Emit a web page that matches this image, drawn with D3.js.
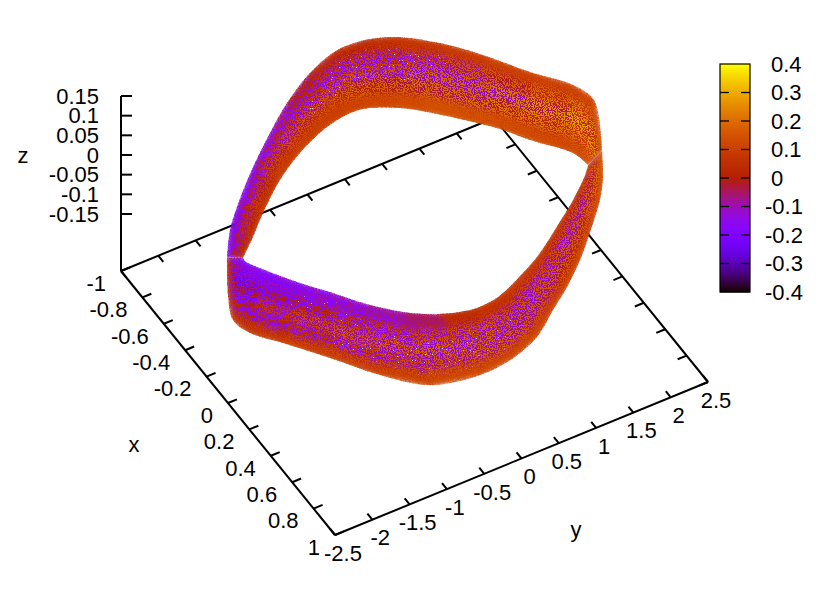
<!DOCTYPE html>
<html><head><meta charset="utf-8">
<script src="https://cdn.jsdelivr.net/npm/d3@7"></script>
<style>html,body{margin:0;padding:0;background:#fff}svg{display:block}text{font-family:"Liberation Sans",Arial,sans-serif;font-size:22px;fill:#000}</style>
</head><body><svg id="c" width="830" height="608"></svg>
<script>
// axis ticks
const xTicks=[-1,-0.8,-0.6,-0.4,-0.2,0,0.2,0.4,0.6,0.8,1];
const yTicks=[-2.5,-2,-1.5,-1,-0.5,0,0.5,1,1.5,2,2.5];
const zTicks=[0.15,0.1,0.05,0,-0.05,-0.1,-0.15];
const cbTicks=[0.4,0.3,0.2,0.1,0,-0.1,-0.2,-0.3,-0.4];
// ribbon stations (outer edge, inner edge); 0-14 start the far half, 15-31 the near half
const outerX=[.029,-.118,-.232,-.422,-.576,-.707,-.824,-.891,-.877,-.818,-.691,-.523,-.316,-.142,-.008,.093,.249,.373,.287,.467,.590,.688,.804,.868,.887,.828,.654,.441,.246,.112,-.002,-.155,.029];
const outerY=[-2.555,-2.304,-2.047,-1.559,-1.111,-.695,-.220,.240,.661,.980,1.333,1.668,2.002,2.328,2.417,2.380,2.170,1.952,1.981,1.550,1.198,.870,.489,.076,-.394,-.979,-1.400,-1.765,-2.115,-2.366,-2.431,-2.278,-2.555];
const outerZ=[.09,.09,.09,.09,.09,.09,.09,.09,.09,.09,.09,.09,.09,.09,.09,0,0,0,-.09,-.09,-.09,-.09,-.09,-.09,-.09,-.09,-.09,-.09,-.09,-.09,-.09,-.09,.09];
const innerX=[-.331,-.427,-.540,-.688,-.795,-.880,-.905,-.887,-.817,-.732,-.615,-.465,-.332,-.158,-.071,.348,.398,.503,.597,.736,.810,.877,.898,.897,.843,.752,.608,.468,.347,.168,.094,.072,-.331];
const innerY=[-1.825,-1.553,-1.256,-.816,-.395,.088,.434,.676,.978,1.217,1.491,1.813,2.025,2.351,2.401,1.827,1.715,1.417,1.106,.626,.292,-.072,-.276,-.543,-.907,-1.233,-1.561,-1.804,-2.032,-2.313,-2.407,-2.402,-1.825];
const innerZ=[-.09,-.09,-.09,-.09,-.09,-.09,-.09,-.09,-.09,-.09,-.09,-.09,-.09,-.09,-.09,.09,.09,.09,.09,.09,.09,.09,.09,.09,.09,.09,.09,.09,.09,.09,.09,.09,-.09];
// colour value of the points per ribbon segment, outer to inner: lower and upper end of what is seen there
const lowValues=[
[-.22,-.2,-.16,-.08,0],[-.22,-.18,-.12,-.02,.03],[-.2,-.16,-.1,0,.05],[-.17,-.15,-.1,.02,.08],[-.13,-.16,-.1,.03,.09],
[-.08,-.16,-.1,.05,.1],[-.02,-.15,-.12,.03,.1],[0,-.15,-.13,0,.1],[.03,-.14,-.14,-.02,.12],[.05,-.12,-.14,-.03,.13],
[.07,-.08,-.13,-.05,.12],[.09,-.02,-.11,0,.12],[.09,.04,-.05,.04,.11],[.09,.08,.04,.08,.11],[.09,.08,0,.1,.11],
[.1,.12,.1,-.05,.05],[.1,.1,.02,-.08,.02],[.1,.08,-.06,-.1,.02],[.1,.02,-.12,-.1,.03],[.1,0,-.13,-.1,.05],
[.1,-.05,-.14,-.1,.05],[.1,-.08,-.14,-.1,.05],[.1,-.08,-.13,-.1,.05],[.1,-.08,-.13,-.1,.02],[.1,-.08,-.13,-.1,-.06],
[.08,-.1,-.1,-.13,-.12],[.07,-.13,-.07,-.15,-.16],[.06,-.14,-.08,-.18,-.18],[.05,-.16,-.12,-.2,-.2],[.03,-.15,-.2,-.24,-.2],
[.02,-.13,-.24,-.26,-.2],[.02,-.1,-.22,-.2,-.18]];
const highValues=[
[-.15,-.08,-.02,.03,.07],[-.15,-.05,.04,.08,.08],[-.13,-.02,.08,.1,.09],[-.1,.05,.12,.12,.1],[-.06,.06,.14,.14,.1],
[0,.06,.15,.15,.1],[.06,.08,.15,.17,.12],[.07,.1,.16,.18,.13],[.08,.09,.16,.18,.14],[.09,.12,.18,.2,.15],
[.1,.15,.18,.2,.15],[.11,.17,.22,.22,.14],[.12,.2,.26,.22,.14],[.12,.22,.29,.24,.15],[.11,.2,.28,.25,.17],
[.12,.2,.2,.18,.15],[.12,.2,.2,.16,.12],[.12,.18,.18,.15,.12],[.12,.17,.16,.14,.11],[.12,.16,.16,.13,.1],
[.12,.15,.15,.13,.1],[.12,.15,.15,.13,.08],[.13,.16,.15,.14,.08],[.14,.17,.17,.14,.06],[.14,.15,.18,.12,-.04],
[.13,.12,.17,.1,-.06],[.13,.1,.16,.07,-.08],[.12,.06,.13,.03,-.1],[.1,.03,.08,-.02,-.12],[.1,.02,.02,-.06,-.13],
[.08,.04,-.04,-.1,-.13],[.08,.05,-.03,-.1,-.12]];
// ribbon cells [segment, column] where the scatter is thin enough for paper to show through
const sparseCells=[[5,2],[6,1],[6,2],[7,1],[7,2],[8,1],[8,2],[9,1],[22,2],[23,2],[23,1],[24,1],[24,2],[25,1],[25,2],[26,3],[27,3],[26,1]];

const svg=d3.select("#c");
const xPxX=d3.scaleLinear([-1,1],[0,214]),xPxY=d3.scaleLinear([-1,1],[0,264]);
const yPxX=d3.scaleLinear([-2.5,2.5],[0,373]),yPxY=d3.scaleLinear([-2.5,2.5],[0,-153]);
const zPx=d3.scaleLinear([-0.295,0.15],[271,96]);
const base=-0.295;
const P=(x,y,z=base)=>[121+xPxX(x)+yPxX(y),zPx(z)+xPxY(x)+yPxY(y)];
const palette=v=>{const g=Math.max(0,Math.min(1,(v+.4)/.8));
  return d3.rgb(255*Math.sqrt(g),255*g*g*g,255*Math.max(0,Math.sin(2*Math.PI*g))).formatRgb();};

const defs=svg.append("defs");
const region=f=>f.attr("filterUnits","userSpaceOnUse").attr("x",0).attr("y",0).attr("width",830).attr("height",608).attr("color-interpolation-filters","sRGB");
const soft=region(defs.append("filter").attr("id","soft"));
soft.append("feGaussianBlur").attr("stdDeviation",3);
const mkGrain=(id,seed,thr,freq,blur,oct)=>{
  const gr=region(defs.append("filter").attr("id",id));
  gr.append("feGaussianBlur").attr("in","SourceGraphic").attr("stdDeviation",blur).attr("result","b");
  gr.append("feTurbulence").attr("type","fractalNoise").attr("baseFrequency",freq).attr("numOctaves",oct).attr("seed",seed).attr("result","n");
  gr.append("feColorMatrix").attr("in","n").attr("type","matrix").attr("values",`0 0 0 0 0 0 0 0 0 0 0 0 0 0 0 30 0 0 0 ${-30*thr}`).attr("result","m");
  gr.append("feComposite").attr("in","b").attr("in2","m").attr("operator","in");
};
mkGrain("grain",23,0.49,"0.87 0.79",3,2);
mkGrain("gaps",11,0.75,"0.71 0.83",5,2);

// wire frame
const line=(a,b,w=2)=>svg.append("line").attr("x1",a[0]).attr("y1",a[1]).attr("x2",b[0]).attr("y2",b[1]).attr("stroke","#000").attr("stroke-width",w);
line(P(-1,-2.5),P(1,-2.5));line(P(1,-2.5),P(1,2.5));line(P(1,2.5),P(-1,2.5));line(P(-1,2.5),P(-1,-2.5));
line([121,zPx(0.15)],[121,271]);
const ty=0.12,tx=0.046;
xTicks.forEach(x=>{line(P(x,-2.5),P(x,-2.5+ty));line(P(x,2.5),P(x,2.5-ty));});
yTicks.forEach(y=>{line(P(1,y),P(1-tx,y));line(P(-1,y),P(-1+tx,y));});
zTicks.forEach(z=>line([121,zPx(z)],[132,zPx(z)]));

// ribbon
const stn=i=>({o:[outerX[i],outerY[i],outerZ[i]],n:[innerX[i],innerY[i],innerZ[i]]});
const lerp=(a,b,t)=>a.map((d,k)=>d+(b[k]-d)*t);
const across=(i,t)=>{const s=stn(i);return P(...lerp(s.o,s.n,t));};
const halves=[{id:"far",from:0,to:15},{id:"near",from:15,to:outerX.length-1}];
const curve=d3.line().curve(d3.curveCatmullRom.alpha(.5));
const cellPoly=(layer,i,c,col)=>{
  const pts=[across(i,c/5),across(i+1,c/5),across(i+1,(c+1)/5),across(i,(c+1)/5)];
  layer.append("polygon").attr("points",pts.map(p=>p.join(",")).join(" ")).attr("fill",col).attr("stroke",col).attr("stroke-width",4).attr("stroke-linejoin","round");
};
halves.forEach(h=>{
  const idx=d3.range(h.from,h.to+1);
  defs.append("clipPath").attr("id","clip-"+h.id).append("path")
    .attr("d",curve(idx.map(i=>across(i,0)))+"L"+curve(idx.slice().reverse().map(i=>across(i,1))).slice(1)+"Z");
  const g=svg.append("g").attr("clip-path",`url(#clip-${h.id})`);
  [[lowValues,"soft"],[highValues,"grain"]].forEach(([tbl,f])=>{
    const layer=g.append("g").attr("filter",`url(#${f})`);
    d3.range(h.from,h.to).forEach(i=>tbl[i].forEach((v,c)=>cellPoly(layer,i,c,palette(v))));
  });
  const gl=g.append("g").attr("filter","url(#gaps)");
  sparseCells.filter(d=>d[0]>=h.from&&d[0]<h.to).forEach(d=>cellPoly(gl,d[0],d[1],"#f4e6f0"));
});

// tick labels
const txt=(s,x,y,a="start")=>svg.append("text").attr("x",x).attr("y",y).attr("dy","0.35em").attr("text-anchor",a).text(s);
zTicks.forEach(z=>txt(String(z),99,zPx(z),"end"));
xTicks.forEach(x=>{const p=P(x,-2.5);txt(String(x),p[0]-15,p[1]+12,"end");});
yTicks.forEach(y=>{const p=P(1,y);txt(String(y),p[0]+8,p[1]+18,"middle");});
txt("z",23,155,"middle");txt("x",134,444,"middle");txt("y",576,529,"middle");

// colour box
const cbY=d3.scaleLinear([0.4,-0.4],[64,292]);
d3.range(0,228).forEach(k=>{svg.append("rect").attr("x",720).attr("y",64+k).attr("width",30).attr("height",1.5).attr("fill",palette(cbY.invert(64+k+.5)));});
svg.append("rect").attr("x",720).attr("y",64).attr("width",30).attr("height",228).attr("fill","none").attr("stroke","#000").attr("stroke-width",1.2);
cbTicks.forEach(v=>{
  if(v<0.4&&v>-0.4){line([720,cbY(v)],[729,cbY(v)],1.3);line([741,cbY(v)],[750,cbY(v)],1.3);}
  txt(String(v),v<0?765:771,cbY(v));
});
</script></body></html>
